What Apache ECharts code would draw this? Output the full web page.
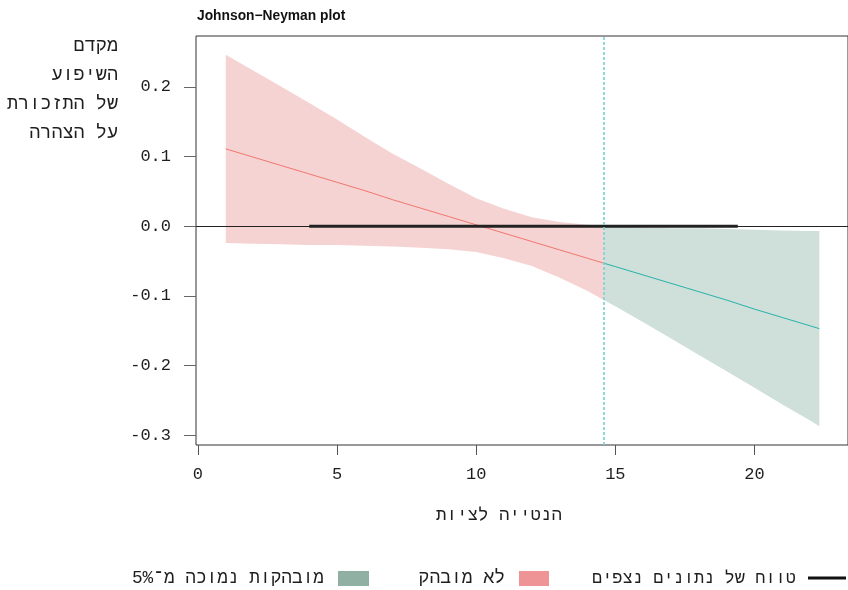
<!DOCTYPE html>
<html>
<head>
<meta charset="utf-8">
<script src="https://cdn.jsdelivr.net/npm/echarts@6/dist/echarts.min.js"></script>
<style>html,body{margin:0;padding:0;background:#fff}#c{width:848px;height:590px}</style>
</head>
<body>
<div id="c"></div>
<script>
// ---- data ----
const xRed    = [1, 2, 3, 4, 5, 6, 7, 8, 9, 10, 11, 12, 13, 14, 14.58];
const estRed  = [0.111, 0.099, 0.087, 0.075, 0.063, 0.051, 0.038, 0.026, 0.014, 0.002, -0.010, -0.022, -0.034, -0.046, -0.053];
const upRed   = [0.246, 0.223, 0.200, 0.177, 0.153, 0.128, 0.104, 0.083, 0.061, 0.040, 0.025, 0.013, 0.006, 0.002, 0.000];
const loRed   = [-0.024, -0.025, -0.026, -0.027, -0.027, -0.028, -0.029, -0.031, -0.033, -0.037, -0.046, -0.057, -0.074, -0.093, -0.106];

const xGreen   = [14.58, 15, 16, 17, 18, 19, 20, 21, 22, 22.33];
const estGreen = [-0.053, -0.058, -0.070, -0.082, -0.094, -0.106, -0.119, -0.131, -0.143, -0.147];
const upGreen  = [0.000, -0.001, -0.002, -0.003, -0.003, -0.004, -0.005, -0.006, -0.007, -0.007];
const loGreen  = [-0.106, -0.115, -0.138, -0.161, -0.185, -0.208, -0.232, -0.256, -0.279, -0.287];

const observedRange = [4, 19.4];
const jnPoint = 14.58;
const xTicks = [0, 5, 10, 15, 20];
const yTicks = [-0.3, -0.2, -0.1, 0, 0.1, 0.2];

const titleText = 'Johnson\u2212Neyman plot';
const yTitle = 'מקדם\nהשיפוע\nשל התזכורת\nעל הצהרה';
const xTitle = 'הנטייה לציות';
const legendObserved = 'טווח של נתונים נצפים';
const legendNS = 'לא מובהק';
const legendSig = 'מובהקות נמוכה מ\u05BE5%';

// ---- chart ----
const FONT = "'Liberation Mono','DejaVu Sans Mono',monospace";
const TXT = '#1e1e1e';
const chart = echarts.init(document.getElementById('c'), null, {renderer: 'canvas'});

function band(xs, lo, hi, color) {
  return {
    type: 'custom', silent: true, z: 1,
    data: [[xs[0], hi[0]]],
    renderItem: function (params, api) {
      const pts = [];
      for (let i = 0; i < xs.length; i++) pts.push(api.coord([xs[i], hi[i]]));
      for (let i = xs.length - 1; i >= 0; i--) pts.push(api.coord([xs[i], lo[i]]));
      return {type: 'polygon', shape: {points: pts}, style: {fill: color}};
    }
  };
}
function pairs(xs, ys) { return xs.map((x, i) => [x, ys[i]]); }

chart.setOption({
  animation: false,
  backgroundColor: '#fff',
  grid: {left: 196, top: 36, width: 653, height: 409, show: true,
         borderColor: '#333', borderWidth: 1, backgroundColor: 'transparent'},
  xAxis: {
    type: 'value', min: -0.07, max: -0.07 + 653 / 27.87,
    axisLine: {show: false, onZero: false},
    splitLine: {show: false},
    axisTick: {show: true, length: 10, inside: false, customValues: xTicks, lineStyle: {color: '#555', width: 1}},
    axisLabel: {show: true, customValues: xTicks, margin: 21, color: TXT,
                fontFamily: FONT, fontSize: 17, formatter: v => String(v)}
  },
  yAxis: {
    type: 'value', min: -0.314, max: 0.273,
    axisLine: {show: false, onZero: false},
    splitLine: {show: false},
    axisTick: {show: true, length: 12, inside: false, customValues: yTicks, lineStyle: {color: '#666', width: 1}},
    axisLabel: {show: true, customValues: yTicks, margin: 25, color: TXT,
                fontFamily: FONT, fontSize: 17, formatter: v => (Math.abs(v) < 1e-9 ? 0 : v).toFixed(1)}
  },
  series: [
    band(xRed, loRed, upRed, '#f6d3d3'),
    band(xGreen, loGreen, upGreen, '#cfe0da'),
    {
      type: 'line', z: 3, silent: true, symbol: 'none',
      data: pairs(xRed, estRed),
      lineStyle: {color: '#f2766d', width: 1}
    },
    {
      type: 'line', z: 3, silent: true, symbol: 'none',
      data: pairs(xGreen, estGreen),
      lineStyle: {color: '#27b2aa', width: 1},
      markLine: {
        silent: true, symbol: ['none', 'none'], label: {show: false},
        data: [
          {yAxis: 0, lineStyle: {color: '#222', width: 1, type: 'solid'}},
          {xAxis: jnPoint, lineStyle: {color: '#76d3d1', width: 1.6, type: [3, 2]}}
        ]
      }
    },
    {
      type: 'line', z: 4, silent: true, symbol: 'none',
      data: [[observedRange[0], 0], [observedRange[1], 0]],
      lineStyle: {color: '#222', width: 3}
    }
  ],
  graphic: [
    {type: 'text', left: 197, top: 9.5, style: {text: titleText, font: "bold 13.8px 'Liberation Sans', Arial, sans-serif", fill: '#111'}},
    {type: 'text', x: 118, y: 31.5, style: {text: yTitle, textAlign: 'right', textVerticalAlign: 'top',
      font: "18.5px " + FONT, lineHeight: 29, fill: TXT}},
    {type: 'text', x: 499, y: 515, style: {text: xTitle, textAlign: 'center', textVerticalAlign: 'middle',
      font: "17.5px " + FONT, fill: TXT}},
    // legend
    {type: 'line', shape: {x1: 808, y1: 578, x2: 846, y2: 578}, style: {stroke: '#111', lineWidth: 3}},
    {type: 'text', x: 796, y: 578, style: {text: legendObserved, textAlign: 'right', textVerticalAlign: 'middle', font: "17px " + FONT, fill: TXT}},
    {type: 'rect', shape: {x: 519, y: 571, width: 30, height: 15}, style: {fill: '#ee9497'}},
    {type: 'text', x: 505, y: 578, style: {text: legendNS, textAlign: 'right', textVerticalAlign: 'middle', font: "18px " + FONT, fill: TXT}},
    {type: 'rect', shape: {x: 338, y: 571, width: 31, height: 15}, style: {fill: '#8fb0a3'}},
    {type: 'text', x: 324, y: 578, style: {text: legendSig, textAlign: 'right', textVerticalAlign: 'middle', font: "17.8px " + FONT, fill: TXT}}
  ]
});
</script>
</body>
</html>
